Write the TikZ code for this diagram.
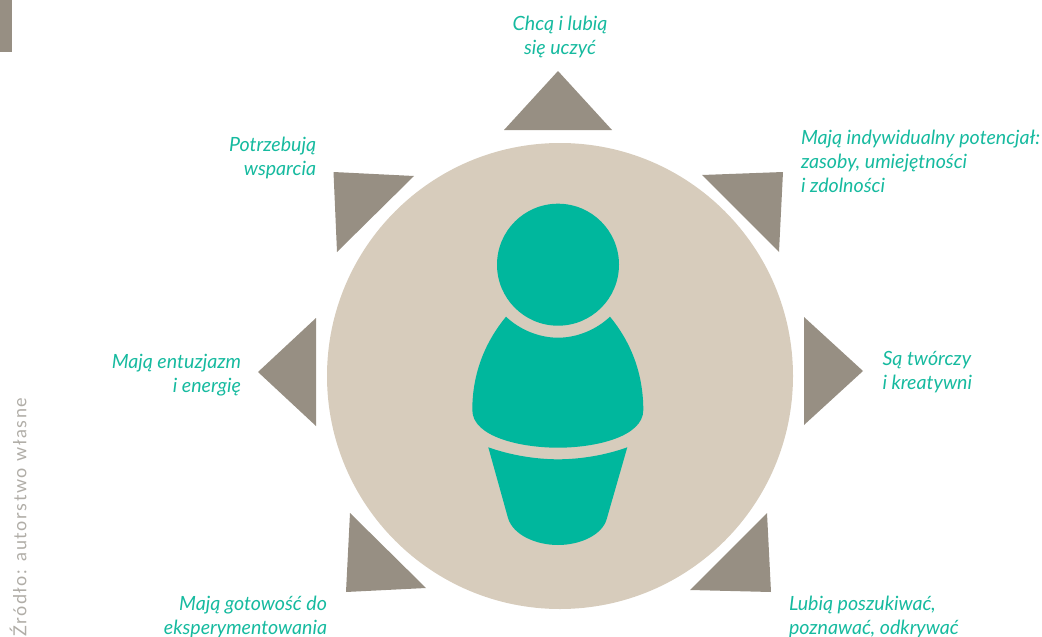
\documentclass[tikz,border=0pt]{standalone}
\usepackage{fontspec}
\setmainfont{Lato}
\newfontfamily\srcfont[LetterSpace=9]{Lato}
\definecolor{teal1}{HTML}{00B79D}
\definecolor{beige1}{HTML}{D7CCBC}
\definecolor{gray1}{HTML}{978F83}
\definecolor{txt1}{HTML}{16BA9F}
\definecolor{src1}{HTML}{B0ADA7}
\tikzset{
  tri/.style={fill=gray1,draw=none},
  lab/.style={font=\fontsize{19.6}{24}\selectfont\itshape,text=txt1,inner sep=0pt,outer sep=0pt},
  labl/.style={lab,align=left,anchor=west},
  labr/.style={lab,align=right,anchor=east},
  labc/.style={lab,align=center,anchor=center},
  fig/.style={fill=teal1,draw=none}
}
\begin{document}
\begin{tikzpicture}[x=1pt,y=-1pt]
\useasboundingbox (0,0) rectangle (1042,637);
\fill[gray1] (0,0) rectangle (12,52);
\fill[beige1] (560,376) circle[radius=233];
% triangles
\fill[tri] (558,71) -- (504,130) -- (612,130) -- cycle;
\fill[tri] (702,175) -- (783,172) -- (779,252) -- cycle;
\fill[tri] (804,317) -- (863,371) -- (804,425) -- cycle;
\fill[tri] (767,513) -- (771,592) -- (690,590) -- cycle;
\fill[tri] (350,513) -- (426,588) -- (346,592) -- cycle;
\fill[tri] (316,318) -- (258,372) -- (316,426) -- cycle;
\fill[tri] (333.5,172) -- (414,176) -- (337,252) -- cycle;
% figure
\fill[fig] (558,264.7) circle[radius=61];
\fill[fig] (506,316.7) .. controls (519,329) and (538,337.7) .. (558,337.7)
  .. controls (578,337.7) and (597,329) .. (610,316.7)
  .. controls (630,341) and (643.3,372) .. (643.3,410)
  .. controls (643.3,437) and (595,447.7) .. (558,447.7)
  .. controls (521,447.7) and (472.3,437) .. (472.3,410)
  .. controls (472.3,372) and (486,341) .. (506,316.7) -- cycle;
\fill[fig] (488.3,447.3) .. controls (510,455) and (535,459.3) .. (558,459.3)
  .. controls (581,459.3) and (606,455) .. (627.3,447.3)
  -- (607,518) .. controls (603,535) and (580,545) .. (558,545)
  .. controls (536,545) and (513,535) .. (508,518) -- cycle;
% labels
\node[labc] (top) at (560,37) {Chcą i lubią\\się uczyć};
\node[labl] (tr) at (801,161.5) {Mają indywidualny potencjał:\\zasoby, umiejętności\\i zdolności};
\node[labl] (r) at (882.5,372) {Są twórczy\\i kreatywni};
\node[labl] (br) at (789,617) {Lubią poszukiwać,\\poznawać, odkrywać};
\node[labr] (bl) at (327,617) {Mają gotowość do\\eksperymentowania};
\node[labr] (l) at (241,375) {Mają entuzjazm\\i energię};
\node[labr] (tl) at (316,158) {Potrzebują\\wsparcia};
\node[rotate=90,anchor=west,inner sep=0pt,text=src1,font=\fontsize{18}{20}\selectfont\srcfont] (src) at (18,637) {Źródło: autorstwo własne};
\end{tikzpicture}
\end{document}
